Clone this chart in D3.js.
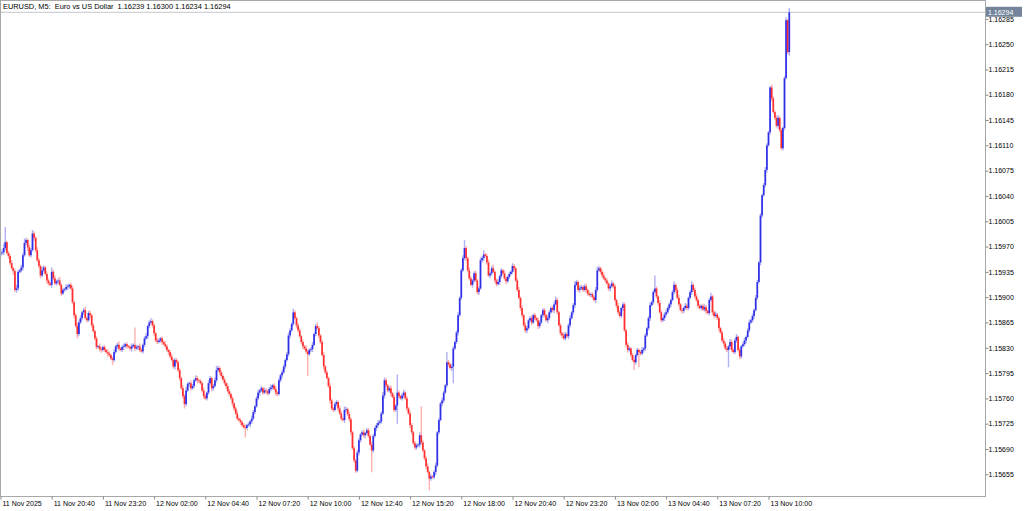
<!DOCTYPE html>
<html>
<head>
<meta charset="utf-8">
<script src="https://cdn.jsdelivr.net/npm/d3@7"></script>
<style>
body { margin: 0; background: #fff; }
svg text { font-family: Tahoma, "Liberation Sans", Arial, sans-serif; font-size: 7px; fill: #000; }
</style>
</head>
<body>
<div id="container"></div>
<script>
// EURUSD M5 candles, 11 Nov 2025 18:00 onwards

var title = "EURUSD, M5:  Euro vs US Dollar  1.16239 1.16300 1.16234 1.16294";
var bidPrice = 1.16294;
var firstOpen = 1.15958;

// close of every 5 minute bar (open = previous close)
var closes = [
  1.15961,1.15962,1.15968,1.15976,1.15961,1.15957,1.15947,1.15940,1.15936,1.15910,
  1.15912,1.15935,1.15937,1.15941,1.15958,1.15975,1.15979,1.15969,1.15958,1.15965,
  1.15988,1.15982,1.15965,1.15951,1.15943,1.15930,1.15937,1.15941,1.15932,1.15923,
  1.15919,1.15917,1.15935,1.15926,1.15919,1.15922,1.15923,1.15917,1.15905,1.15910,
  1.15911,1.15914,1.15915,1.15917,1.15912,1.15893,1.15875,1.15860,1.15849,1.15865,
  1.15871,1.15879,1.15882,1.15871,1.15868,1.15878,1.15875,1.15861,1.15853,1.15843,
  1.15831,1.15832,1.15828,1.15827,1.15831,1.15827,1.15824,1.15822,1.15820,1.15815,
  1.15813,1.15824,1.15832,1.15834,1.15829,1.15827,1.15831,1.15832,1.15835,1.15832,
  1.15831,1.15829,1.15832,1.15834,1.15829,1.15831,1.15832,1.15827,1.15825,1.15834,
  1.15843,1.15846,1.15860,1.15865,1.15867,1.15861,1.15850,1.15840,1.15838,1.15840,
  1.15843,1.15838,1.15835,1.15832,1.15827,1.15824,1.15818,1.15813,1.15804,1.15813,
  1.15810,1.15799,1.15788,1.15774,1.15763,1.15752,1.15771,1.15780,1.15781,1.15774,
  1.15777,1.15785,1.15788,1.15785,1.15784,1.15781,1.15771,1.15763,1.15760,1.15768,
  1.15781,1.15788,1.15774,1.15777,1.15785,1.15799,1.15802,1.15796,1.15791,1.15786,
  1.15781,1.15777,1.15770,1.15766,1.15760,1.15753,1.15746,1.15739,1.15732,1.15730,
  1.15727,1.15723,1.15720,1.15719,1.15723,1.15724,1.15728,1.15732,1.15741,1.15749,
  1.15760,1.15768,1.15771,1.15774,1.15768,1.15771,1.15770,1.15767,1.15773,1.15775,
  1.15778,1.15773,1.15768,1.15766,1.15785,1.15792,1.15796,1.15804,1.15813,1.15821,
  1.15847,1.15854,1.15863,1.15879,1.15871,1.15861,1.15854,1.15846,1.15838,1.15832,
  1.15829,1.15825,1.15821,1.15827,1.15828,1.15834,1.15849,1.15860,1.15857,1.15847,
  1.15838,1.15820,1.15804,1.15796,1.15788,1.15777,1.15757,1.15746,1.15744,1.15752,
  1.15755,1.15746,1.15739,1.15732,1.15730,1.15744,1.15745,1.15738,1.15731,1.15713,
  1.15691,1.15674,1.15660,1.15685,1.15702,1.15710,1.15713,1.15709,1.15712,1.15716,
  1.15708,1.15696,1.15688,1.15708,1.15719,1.15723,1.15726,1.15728,1.15739,1.15764,
  1.15785,1.15778,1.15771,1.15774,1.15767,1.15762,1.15744,1.15750,1.15768,1.15763,
  1.15760,1.15764,1.15768,1.15760,1.15746,1.15739,1.15723,1.15713,1.15698,1.15692,
  1.15695,1.15696,1.15709,1.15699,1.15688,1.15677,1.15666,1.15658,1.15649,1.15652,
  1.15651,1.15658,1.15667,1.15713,1.15730,1.15753,1.15757,1.15768,1.15778,1.15810,
  1.15807,1.15802,1.15804,1.15829,1.15838,1.15851,1.15875,1.15899,1.15937,1.15954,
  1.15968,1.15954,1.15937,1.15926,1.15917,1.15923,1.15933,1.15923,1.15907,1.15912,
  1.15951,1.15954,1.15959,1.15957,1.15948,1.15930,1.15933,1.15940,1.15935,1.15923,
  1.15918,1.15921,1.15929,1.15937,1.15933,1.15926,1.15922,1.15928,1.15932,1.15935,
  1.15943,1.15940,1.15923,1.15910,1.15899,1.15885,1.15875,1.15861,1.15854,1.15857,
  1.15868,1.15871,1.15865,1.15875,1.15871,1.15868,1.15860,1.15865,1.15875,1.15882,
  1.15875,1.15868,1.15871,1.15879,1.15885,1.15882,1.15890,1.15896,1.15879,1.15861,
  1.15850,1.15847,1.15843,1.15849,1.15846,1.15861,1.15871,1.15879,1.15889,1.15917,
  1.15921,1.15910,1.15912,1.15914,1.15910,1.15915,1.15910,1.15905,1.15903,1.15904,
  1.15900,1.15896,1.15910,1.15937,1.15940,1.15935,1.15930,1.15926,1.15923,1.15919,
  1.15912,1.15915,1.15919,1.15915,1.15896,1.15888,1.15879,1.15874,1.15885,1.15890,
  1.15854,1.15834,1.15827,1.15829,1.15820,1.15813,1.15810,1.15820,1.15827,1.15824,
  1.15822,1.15827,1.15829,1.15847,1.15857,1.15871,1.15889,1.15893,1.15907,1.15912,
  1.15901,1.15892,1.15879,1.15868,1.15871,1.15876,1.15879,1.15885,1.15890,1.15896,
  1.15907,1.15917,1.15910,1.15899,1.15890,1.15882,1.15881,1.15885,1.15888,1.15885,
  1.15899,1.15907,1.15917,1.15910,1.15901,1.15896,1.15888,1.15885,1.15888,1.15883,
  1.15886,1.15881,1.15878,1.15896,1.15901,1.15879,1.15874,1.15876,1.15871,1.15857,
  1.15851,1.15840,1.15836,1.15829,1.15827,1.15832,1.15838,1.15827,1.15824,1.15840,
  1.15845,1.15827,1.15818,1.15832,1.15835,1.15840,1.15845,1.15854,1.15865,1.15868,
  1.15874,1.15882,1.15899,1.15921,1.15948,1.16013,1.16041,1.16055,1.16076,1.16110,
  1.16128,1.16190,1.16175,1.16156,1.16148,1.16137,1.16148,1.16131,1.16106,1.16134,
  1.16203,1.16283,1.16239,1.16294
];

// upper / lower shadow beyond the body, in points (0.00001)
var hiWick = [
  3,4,6,21,2,3,2,4,2,3, 5,3,2,4,3,6,3,2,4,3, 5,3,2,4,3,2,5,3,2,4, 3,2,6,3,4,2,3,5,2,3,
  2,4,3,2,3,4,2,3,5,3, 4,2,3,5,2,3,4,2,3,2, 3,2,4,3,2,3,2,4,3,2, 3,4,2,3,5,2,3,4,2,3,
  2,3,4,2,24,3,2,4,3,2, 3,4,2,3,4,2,3,2,4,3, 2,3,2,4,3,2,3,4,2,3, 3,2,3,2,4,3,5,3,2,4,
  3,2,4,3,2,3,2,4,3,2, 4,3,2,3,4,6,3,2,3,2, 3,2,4,3,2,3,2,3,4,2, 3,2,3,4,2,3,2,4,3,2,
  3,4,2,3,2,4,3,2,3,4, 2,3,4,2,3,2,4,3,2,3, 4,3,2,5,3,2,4,3,2,3, 2,4,3,2,3,4,2,3,5,3,
  2,3,4,2,3,2,4,3,2,3, 3,2,4,3,2,5,3,2,4,3, 2,3,2,4,3,2,3,4,2,3, 3,2,4,3,2,3,4,2,3,5,
  4,3,2,3,4,2,3,2,25,3, 2,3,4,2,3,2,4,3,2,3, 3,2,4,40,3,2,3,4,2,3, 2,3,4,2,3,2,4,3,2,14,
  3,2,4,3,2,3,4,2,3,4, 11,3,2,4,3,2,3,4,2,3, 4,3,6,2,3,4,2,3,5,2, 3,4,2,3,2,4,3,2,3,2,
  4,3,2,3,4,2,3,2,4,3, 2,3,4,2,3,2,4,3,2,3, 3,2,4,3,2,3,4,5,3,2, 3,2,4,3,2,3,4,2,3,5,
  3,2,4,3,2,3,4,2,3,2, 3,2,4,5,3,2,3,4,2,3, 2,3,4,2,3,2,4,3,2,3, 3,2,4,3,2,3,4,2,3,2,
  3,4,2,3,2,3,4,2,3,18, 3,2,4,3,2,3,4,2,3,2, 3,5,2,3,4,2,3,2,4,3, 2,3,5,2,3,4,2,3,2,3,
  4,3,2,3,5,2,3,4,2,3, 2,3,4,2,3,2,4,3,2,3, 4,2,3,2,3,4,2,3,4,2, 3,2,4,3,2,3,2,3,4,3,
  2,2,4,3,2,3,4,2,3,2, 3,4,2,6
];
var loWick = [
  3,2,4,3,2,4,3,2,5,3, 4,3,2,3,4,2,3,5,2,3, 2,4,3,2,3,4,2,3,2,4, 3,2,4,3,2,3,4,2,3,2,
  3,2,4,3,2,3,4,2,6,3, 2,3,4,2,3,2,4,3,2,3, 3,2,3,4,2,3,2,4,3,2, 7,3,2,4,3,2,3,4,2,3,
  2,3,4,2,3,2,4,3,2,3, 3,2,4,3,2,3,4,2,3,2, 3,4,2,3,2,4,3,2,3,4, 2,3,4,2,3,6,3,2,4,3,
  2,3,2,4,3,2,3,4,2,3, 3,2,4,3,2,3,2,4,3,2, 3,4,2,3,2,4,3,2,3,2, 4,3,2,13,3,2,4,3,2,3,
  2,3,4,2,3,2,4,3,2,3, 3,2,4,3,2,3,4,2,3,2, 3,4,2,3,2,4,3,2,3,4, 2,3,30,2,3,4,2,3,2,4,
  3,2,4,3,2,3,4,2,3,2, 3,4,2,3,2,4,3,2,3,4, 2,3,3,2,4,3,2,3,4,2, 3,2,30,3,2,4,3,2,3,2,
  4,3,2,3,4,2,3,2,25,3, 2,3,4,2,3,2,4,3,2,3, 3,2,4,3,2,3,4,2,16,3, 2,3,4,2,3,2,4,3,2,3,
  3,2,4,23,2,3,4,2,3,2, 3,4,2,3,2,4,3,2,3,4, 2,3,4,2,3,2,4,3,2,3, 3,2,4,3,2,3,4,2,3,2,
  3,4,2,3,2,4,3,2,3,4, 2,3,4,2,3,2,4,3,2,3, 3,2,4,3,2,3,4,2,3,2, 3,4,2,3,2,4,3,2,3,4,
  2,3,4,2,3,2,4,3,2,3, 3,2,4,3,2,3,4,2,3,2, 3,4,2,3,2,4,3,2,3,4, 2,3,4,2,3,2,11,3,2,21,
  3,2,4,3,2,3,4,2,3,2, 3,4,2,3,2,4,3,2,3,4, 2,3,4,2,3,2,4,3,2,3, 3,2,4,3,2,3,4,2,3,2,
  3,4,2,3,2,4,3,2,3,4, 2,3,4,2,3,24,4,3,2,3, 3,2,4,3,2,3,4,2,3,2, 3,4,2,3,2,4,3,2,3,4,
  2,3,4,2,3,2,4,3,2,3, 3,2,3,5
];

var priceTicks = [1.16285,1.16250,1.16215,1.16180,1.16145,1.16110,1.16075,1.16040,1.16005,1.15970,
                  1.15935,1.15900,1.15865,1.15830,1.15795,1.15760,1.15725,1.15690,1.15655];
var timeLabels = ["11 Nov 2025","11 Nov 20:40","11 Nov 23:20","12 Nov 02:00","12 Nov 04:40","12 Nov 07:20",
                  "12 Nov 10:00","12 Nov 12:40","12 Nov 15:20","12 Nov 18:00","12 Nov 20:40","12 Nov 23:20",
                  "13 Nov 02:00","13 Nov 04:40","13 Nov 07:20","13 Nov 10:00"];
var barsPerLabel = 32;

var W = 1024, H = 511;
var plot = {left: 1, top: 1, right: 985, bottom: 496};

var svg = d3.select("#container").append("svg")
    .attr("width", W)
    .attr("height", H);

// scales
var x = d3.scaleLinear().domain([0, 615]).range([0.5, 984.5]);
var y = d3.scaleLinear().domain([1.15655, 1.16285]).range([474.3, 18.8]);

// build bars
var bars = closes.map(function(c, i) {
  var o = i === 0 ? firstOpen : closes[i - 1];
  return {
    i: i, o: o, c: c,
    h: Math.max(o, c) + hiWick[i] * 1e-5,
    l: Math.min(o, c) - loWick[i] * 1e-5
  };
});

var chartG = svg.append("g");

// bid line
chartG.append("line")
    .attr("x1", plot.left).attr("x2", plot.right)
    .attr("y1", y(bidPrice)).attr("y2", y(bidPrice))
    .attr("stroke", "#c4c6cc")
    .attr("stroke-width", 1);

// shadows
chartG.selectAll(".wick")
    .data(bars)
  .enter().append("line")
    .attr("class", "wick")
    .attr("x1", function(d) { return x(d.i); })
    .attr("x2", function(d) { return x(d.i); })
    .attr("y1", function(d) { return y(d.h); })
    .attr("y2", function(d) { return y(d.l); })
    .attr("stroke", function(d) { return d.c >= d.o ? "#3a3ae6" : "#ff3a3a"; })
    .attr("stroke-opacity", 0.4)
    .attr("stroke-width", 1.4);

// bodies
chartG.selectAll(".body")
    .data(bars)
  .enter().append("rect")
    .attr("class", "body")
    .attr("x", function(d) { return x(d.i) - 0.85; })
    .attr("width", 1.7)
    .attr("y", function(d) { return y(Math.max(d.o, d.c)); })
    .attr("height", function(d) { return Math.max(0.8, y(Math.min(d.o, d.c)) - y(Math.max(d.o, d.c))); })
    .attr("fill", function(d) { return d.c >= d.o ? "#2f2fe8" : "#ff2f2f"; });

// frame
svg.append("rect")
    .attr("x", 0.5).attr("y", 0.5)
    .attr("width", plot.right)
    .attr("height", plot.bottom)
    .attr("fill", "none")
    .attr("stroke", "#a8a8a8")
    .attr("stroke-width", 1);

// price axis
var yAxis = d3.axisRight(y)
    .tickValues(priceTicks)
    .tickFormat(d3.format(".5f"))
    .tickSize(3)
    .tickPadding(0);

svg.append("g")
    .attr("class", "y axis")
    .attr("transform", "translate(" + (plot.right + 0.5) + ",0)")
    .call(yAxis)
    .call(function(g) { g.select(".domain").remove(); })
    .call(function(g) { g.selectAll(".tick line").attr("stroke", "#888"); })
    .call(function(g) { g.selectAll("text").attr("fill", "#000").style("font-size", "7px"); });

// time axis
var xAxis = d3.axisBottom(x)
    .tickValues(timeLabels.map(function(t, k) { return k * barsPerLabel; }))
    .tickFormat(function(d, k) { return timeLabels[k]; })
    .tickSize(3)
    .tickPadding(2);

svg.append("g")
    .attr("class", "x axis")
    .attr("transform", "translate(0," + (plot.bottom + 0.5) + ")")
    .call(xAxis)
    .call(function(g) { g.select(".domain").remove(); })
    .call(function(g) { g.selectAll(".tick line").attr("stroke", "#888"); })
    .selectAll("text")
      .attr("fill", "#000")
      .style("font-size", "7px")
      .style("text-anchor", "start")
      .attr("x", 1.5);

// current price box
svg.append("rect")
    .attr("x", plot.right + 1)
    .attr("y", y(bidPrice) - 5.5)
    .attr("width", 36)
    .attr("height", 10)
    .attr("fill", "#74849a");

svg.append("text")
    .attr("x", plot.right + 3)
    .attr("y", y(bidPrice) + 2.5)
    .style("fill", "#fff")
    .text(d3.format(".5f")(bidPrice));

// title (keep the double spaces)
svg.append("text")
    .attr("x", 3)
    .attr("y", 8.5)
    .style("white-space", "pre")
    .style("font-size", "7.4px")
    .text(title);
</script>
</body>
</html>
